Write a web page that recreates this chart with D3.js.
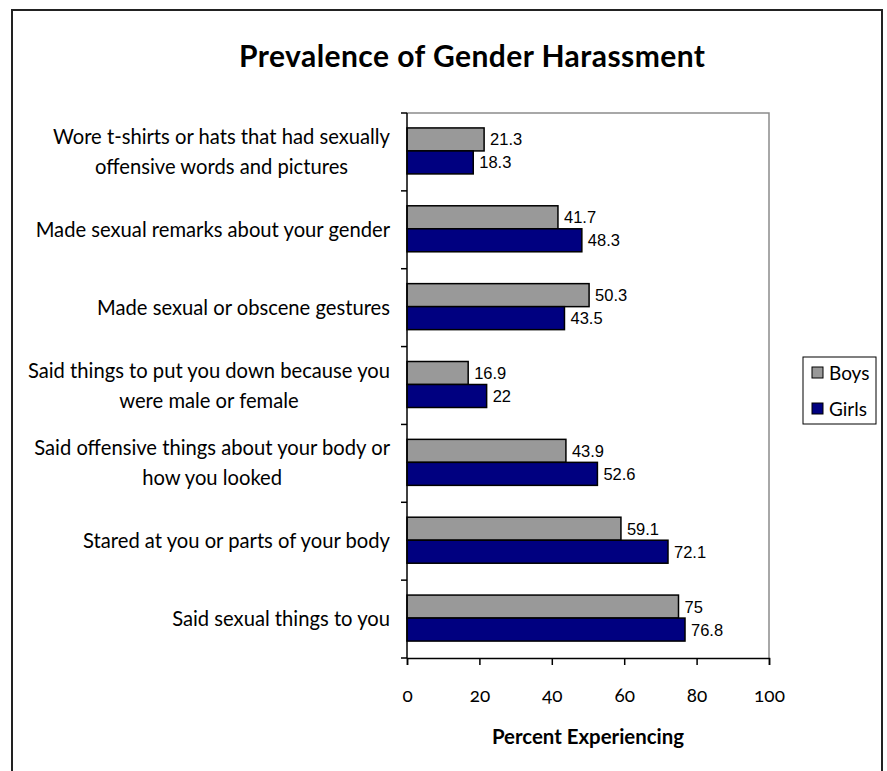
<!DOCTYPE html>
<html>
<head>
<meta charset="utf-8">
<script src="https://cdn.jsdelivr.net/npm/d3@7"></script>
<style>
  html, body { margin: 0; padding: 0; background: #fff; }
  svg { display: block; }
  .ui { font-family: Lato, "Open Sans", sans-serif; fill: #000; }
  .num { font-family: "Liberation Sans", Arial, sans-serif; fill: #000; }
</style>
</head>
<body>
<svg id="chart" width="887" height="771"></svg>
<script>
// Survey items (top to bottom) and percentages per group
const categories = [
  "Wore t-shirts or hats that had sexually|offensive words and pictures",
  "Made sexual remarks about your gender",
  "Made sexual or obscene gestures",
  "Said things to put you down because you|were male or female",
  "Said offensive things about your body or|how you looked",
  "Stared at you or parts of your body",
  "Said sexual things to you"
];
const boys  = [21.3, 41.7, 50.3, 16.9, 43.9, 59.1, 75];
const girls = [18.3, 48.3, 43.5, 22, 52.6, 72.1, 76.8];
const seriesNames = ["Boys", "Girls"];
const seriesColors = ["#999999", "#000080"];
const xTicks = [0, 20, 40, 60, 80, 100];

const svg = d3.select("#chart");

// outer chart frame
svg.append("rect")
  .attr("x", 12).attr("y", 10)
  .attr("width", 870).attr("height", 780)
  .attr("fill", "#fff").attr("stroke", "#222").attr("stroke-width", 2);

// title
svg.append("text").attr("class", "ui")
  .attr("x", 472).attr("y", 67)
  .attr("text-anchor", "middle")
  .attr("font-size", 30).attr("font-weight", "bold")
  .attr("textLength", 466).attr("lengthAdjust", "spacing")
  .text("Prevalence of Gender Harassment");

const plot = { left: 407, right: 769, top: 113, bottom: 658 };

const x = d3.scaleLinear().domain([0, 100]).range([plot.left, plot.right]);
const y = d3.scaleBand().domain(d3.range(categories.length))
  .range([plot.top, plot.bottom]).paddingInner(0).paddingOuter(0);
const barH = 23;

// plot area frame (top and right edges in grey)
svg.append("path")
  .attr("d", `M${plot.left},${plot.top}H${plot.right}V${plot.bottom}`)
  .attr("fill", "none").attr("stroke", "#8c8c8c").attr("stroke-width", 1.5);

// bars with value labels
const g = svg.append("g");
categories.forEach((c, i) => {
  const cy = y(i) + y.bandwidth() / 2 - 1;
  [boys[i], girls[i]].forEach((v, s) => {
    const top = s === 0 ? cy - barH : cy;
    g.append("rect")
      .attr("x", x(0)).attr("y", top)
      .attr("width", x(v) - x(0)).attr("height", barH)
      .attr("fill", seriesColors[s]).attr("stroke", "#000").attr("stroke-width", 1.5);
    g.append("text").attr("class", "num")
      .attr("x", x(v) + 6).attr("y", top + barH / 2)
      .attr("dy", "0.36em").attr("font-size", 16.5)
      .text(String(v));
  });
});

// category axis: line plus outward ticks at band boundaries
const yAxisG = svg.append("g");
yAxisG.append("line")
  .attr("x1", plot.left).attr("x2", plot.left)
  .attr("y1", plot.top).attr("y2", plot.bottom)
  .attr("stroke", "#000").attr("stroke-width", 1.5);
d3.range(categories.length + 1).forEach(k => {
  const yy = plot.top + k * y.bandwidth();
  yAxisG.append("line")
    .attr("x1", plot.left - 6).attr("x2", plot.left)
    .attr("y1", yy).attr("y2", yy)
    .attr("stroke", "#000").attr("stroke-width", 1.5);
});

// category labels, wrapped lines centred on each other, block right-aligned
const labelRight = 390, lineH = 30;
categories.forEach((c, i) => {
  const lines = c.split("|");
  const cy = y(i) + y.bandwidth() / 2;
  const t = svg.append("text").attr("class", "ui").attr("font-size", 20.2);
  const spans = lines.map((ln, j) => t.append("tspan")
    .attr("y", cy + (j - (lines.length - 1) / 2) * lineH)
    .attr("dy", "0.35em").text(ln));
  const widths = spans.map(s => s.node().getComputedTextLength());
  const maxW = d3.max(widths);
  const cx = labelRight - maxW / 2;
  spans.forEach(s => s.attr("x", cx).attr("text-anchor", "middle"));
});

// value axis
const xAxis = d3.axisBottom(x).tickValues(xTicks).tickSize(7).tickPadding(0)
  .tickFormat(d3.format("d"));
const xAxisG = svg.append("g").attr("transform", `translate(0,${plot.bottom})`).call(xAxis);
xAxisG.select(".domain").attr("stroke", "#000").attr("stroke-width", 1.5);
xAxisG.selectAll(".tick line").attr("stroke", "#000").attr("stroke-width", 1.5);
xAxisG.selectAll(".tick text")
  .attr("class", "ui")
  .attr("font-size", 19).attr("y", 44).attr("dy", "0")
  .style("font-variant-numeric", "oldstyle-nums");

// axis title
svg.append("text").attr("class", "ui")
  .attr("x", (plot.left + plot.right) / 2).attr("y", 744)
  .attr("text-anchor", "middle")
  .attr("font-size", 20.4).attr("font-weight", "bold")
  .text("Percent Experiencing");

// legend
const lg = svg.append("g");
const lgBox = { x: 803, y: 357, w: 73, h: 67 };
lg.append("rect")
  .attr("x", lgBox.x).attr("y", lgBox.y)
  .attr("width", lgBox.w).attr("height", lgBox.h)
  .attr("fill", "#fff").attr("stroke", "#000").attr("stroke-width", 1);
seriesNames.forEach((name, s) => {
  const cy = lgBox.y + 16 + s * 36;
  lg.append("rect")
    .attr("x", lgBox.x + 9).attr("y", cy - 6)
    .attr("width", 11).attr("height", 11)
    .attr("fill", seriesColors[s]).attr("stroke", "#000").attr("stroke-width", 1);
  lg.append("text").attr("class", "ui")
    .attr("x", lgBox.x + 26).attr("y", cy)
    .attr("dy", "0.35em").attr("font-size", 19)
    .text(name);
});
</script>
</body>
</html>
